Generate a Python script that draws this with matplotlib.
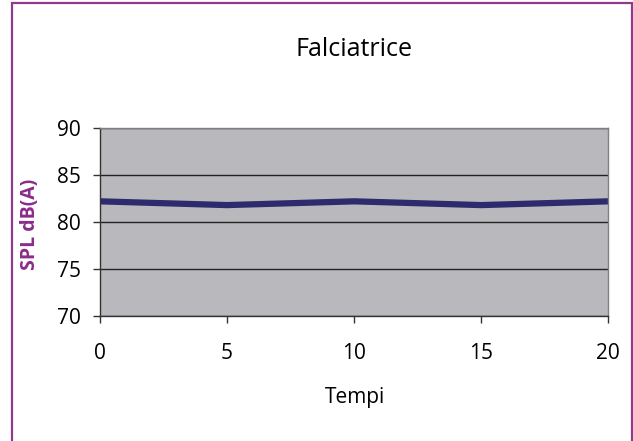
import matplotlib
matplotlib.use("Agg")
import matplotlib.pyplot as plt
from matplotlib.patches import Rectangle

# data
tempi = [0, 5, 10, 15, 20]
spl = [82.2, 81.8, 82.2, 81.8, 82.2]
y_ticks = [70, 75, 80, 85, 90]
x_ticks = [0, 5, 10, 15, 20]

plt.rcParams['font.family'] = ['Open Sans', 'DejaVu Sans']

fig = plt.figure(figsize=(6.33, 4.41), dpi=100)
ax = fig.add_axes([0.158, 0.283, 0.803, 0.427])

ax.set_facecolor('#B9B9BD')
ax.plot(tempi, spl, color='#2E2A6E', linewidth=4.5, solid_capstyle='butt')

ax.set_xlim(0, 20)
ax.set_ylim(70, 90)
ax.set_xticks(x_ticks)
ax.set_yticks(y_ticks)
ax.yaxis.grid(True, color='#222222', linewidth=1)
ax.set_axisbelow(True)

for side in ['top', 'right']:
    ax.spines[side].set_color('#808080')
    ax.spines[side].set_linewidth(1)
for side in ['left', 'bottom']:
    ax.spines[side].set_color('#333333')
    ax.spines[side].set_linewidth(1)

ax.tick_params(axis='both', direction='out', length=5, width=1, labelsize=15, colors='#333333', labelcolor='black')
ax.tick_params(axis='x', pad=14)
ax.tick_params(axis='y', pad=9)

fig.text(0.56, 1 - 50 / 441, 'Falciatrice', fontsize=18, ha='center', va='center')
ax.set_xlabel('Tempi', fontsize=15)
ax.xaxis.set_label_coords(0.502, -0.431)
ax.xaxis.label.set_va('center')
ax.set_ylabel('SPL dB(A)', fontsize=14, fontweight='bold', color='#8B2B8B')
ax.yaxis.set_label_coords(-0.138, 0.49)
ax.yaxis.label.set_va('center')

# purple frame around the whole chart
fig.patches.append(Rectangle((12 / 633, -0.05), 620 / 633, 1 - 3 / 441 + 0.05,
                             transform=fig.transFigure, fill=False,
                             edgecolor='#8E3A8E', linewidth=1.6))

fig.savefig('out.png', dpi=100)
